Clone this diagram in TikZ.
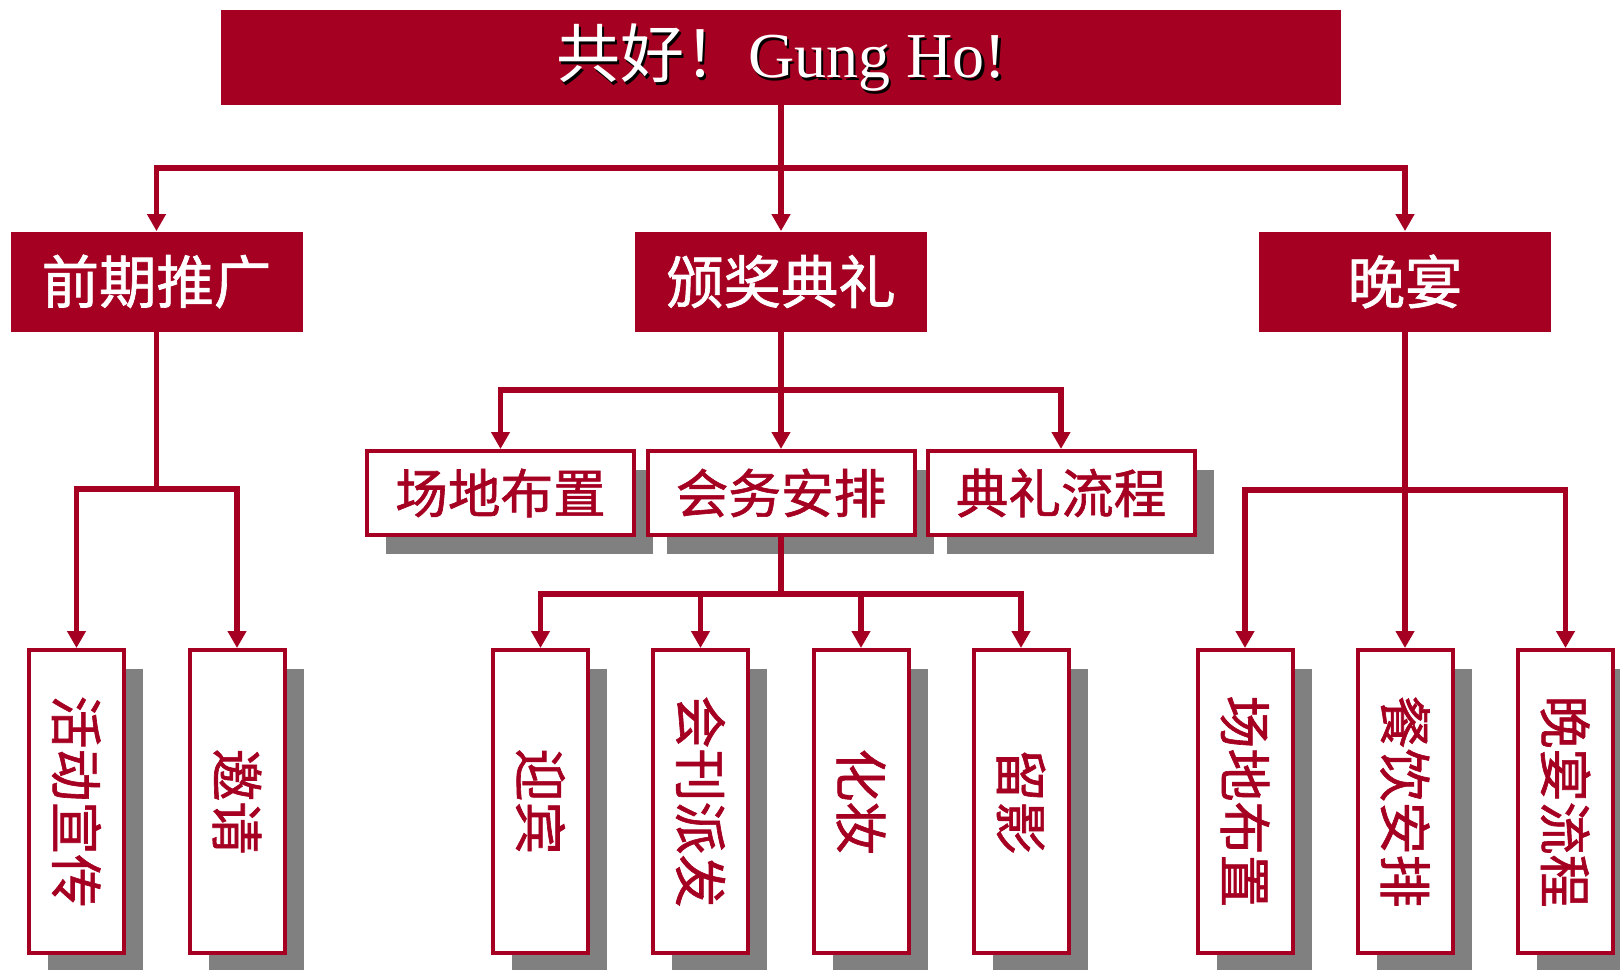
\documentclass[tikz,border=0pt]{standalone}
\usepackage{fontspec}
\newfontfamily\cjk{Noto Sans CJK SC}[FakeBold=1.2]
\newfontfamily\cjkt{Noto Sans CJK SC}
\newfontfamily\latf{Liberation Serif}
\usetikzlibrary{arrows.meta,shadows,calc}
\definecolor{dred}{HTML}{A50021}
\definecolor{shgray}{HTML}{808080}
\begin{document}
\begin{tikzpicture}[x=0.5pt,y=-0.5pt,
  topbox/.style={fill=dred, draw=none, inner sep=0pt, minimum width=560pt, minimum height=47.5pt},
  redbox/.style={fill=dred, draw=none, inner sep=0pt, text=white,
    font=\cjk\fontsize{28.7pt}{32pt}\selectfont, minimum width=146pt, minimum height=50pt},
  shadowed/.style={general shadow={fill=shgray, shadow xshift=9.5pt, shadow yshift=-9.5pt}},
  whitebox/.style={fill=white, draw=dred, line width=2pt, inner sep=0pt, text=dred,
    font=\cjk\fontsize{26.3pt}{30pt}\selectfont, minimum width=133.5pt, minimum height=42pt, shadowed},
  leafbox/.style={fill=white, draw=dred, line width=2pt, inner sep=0pt,
    minimum width=47.5pt, minimum height=151.5pt, shadowed},
  leaftext/.style={rotate=-90, text=dred, inner sep=0pt, font=\cjk\fontsize{26.5pt}{30pt}\selectfont},
  conn/.style={draw=dred, line width=2.75pt},
  arr/.style={conn, -{Triangle[width=9pt,length=8.5pt]}}
]
\useasboundingbox (0,0) rectangle (1620,969);
% top
\node[topbox] (top) at (781,57.5) {};
\node[text=black, inner sep=0pt] (toptsh) at ($(top.center)+(1.3pt,-1.3pt)$)
  {\fontsize{32pt}{36pt}\selectfont\cjkt 共好！\latf Gung Ho!};
\node[text=white, inner sep=0pt] (toptxt) at (top.center)
  {\fontsize{32pt}{36pt}\selectfont\cjkt 共好！\latf Gung Ho!};
% level 2
\node[redbox] (pa) at (156.5,281.5) {前期推广};
\node[redbox] (pb) at (781,281.5) {颁奖典礼};
\node[redbox] (pc) at (1405,281.5) {晚宴};
% level 3
\node[whitebox] (qa) at (500.5,493) {场地布置};
\node[whitebox] (qb) at (781,493) {会务安排};
\node[whitebox] (qc) at (1061,493) {典礼流程};
% leaves
\foreach \nm/\x/\t in {a1/76.5/活动宣传, a2/237/邀请,
   b1/540.5/迎宾, b2/700.5/会刊派发, b3/861/化妆, b4/1021/留影,
   c1/1245/场地布置, c2/1405/餐饮安排, c3/1565.5/晚宴流程}{
  \node[leafbox] (\nm) at (\x,801.5) {};
  \node[leaftext] (\nm t) at (\nm.center) {\t};
}
% connectors
\coordinate (j1) at (781,168);
\coordinate (j2) at (781,390);
\coordinate (j3) at (781,594);
\coordinate (j4) at (156.5,489);
\coordinate (j5) at (1405,490);
\draw[arr] (top.south) -- (pb.north);
\draw[arr] (j1) -| (pa.north);
\draw[arr] (j1) -| (pc.north);
\draw[arr] (pb.south) -- (qb.north);
\draw[arr] (j2) -| (qa.north);
\draw[arr] (j2) -| (qc.north);
\draw[conn] (qb.south) -- (j3);
\draw[arr] (j3) -| (b1.north);
\draw[arr] (j3) -| (b2.north);
\draw[arr] (j3) -| (b3.north);
\draw[arr] (j3) -| (b4.north);
\draw[conn] (pa.south) -- (j4);
\draw[arr] (j4) -| (a1.north);
\draw[arr] (j4) -| (a2.north);
\draw[arr] (pc.south) -- (c2.north);
\draw[arr] (j5) -| (c1.north);
\draw[arr] (j5) -| (c3.north);
\end{tikzpicture}
\end{document}
